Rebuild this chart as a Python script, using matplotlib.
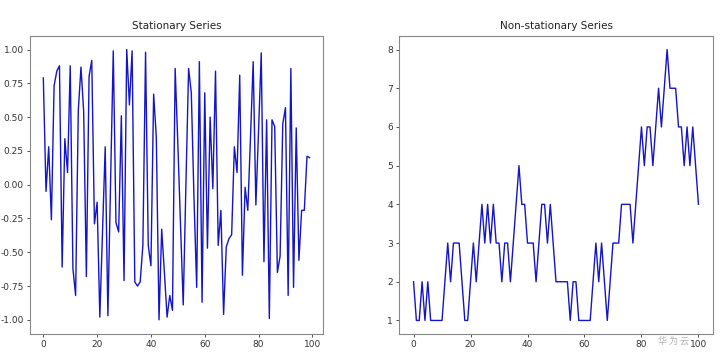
import matplotlib
matplotlib.use("Agg")
import matplotlib.pyplot as plt
import numpy as np

plt.rcParams["axes.unicode_minus"] = False

# Data
stationary = [0.79, -0.05, 0.28, -0.26, 0.73, 0.84, 0.88, -0.61, 0.34, 0.09,
              0.88, -0.62, -0.82, 0.55, 0.87, 0.54, -0.68, 0.80, 0.92, -0.29,
              -0.13, -0.98, -0.35, 0.28, -0.97, 0.02, 0.99, -0.28, -0.35, 0.51,
              -0.71, 1.00, 0.59, 0.99, -0.72, -0.75, -0.72, -0.45, 0.98, -0.45,
              -0.60, 0.67, 0.35, -1.00, -0.33, -0.65, -0.98, -0.82, -0.93, 0.86,
              0.30, -0.30, -0.89, 0.00, 0.86, 0.68, -0.10, -0.76, 0.91, -0.87,
              0.68, -0.47, 0.50, -0.03, 0.84, -0.45, -0.19, -0.96, -0.46, -0.40,
              -0.37, 0.28, 0.09, 0.81, -0.67, -0.02, -0.19, 0.35, 0.91, -0.15,
              0.40, 0.975, -0.57, 0.48, -0.99, 0.48, 0.43, -0.65, -0.53, 0.45,
              0.57, -0.82, 0.86, -0.76, 0.42, -0.56, -0.19, -0.19, 0.21, 0.20]

non_stationary = [2, 1, 1, 2, 1, 2, 1, 1, 1, 1,
                  1, 2, 3, 2, 3, 3, 3, 2, 1, 1,
                  2, 3, 2, 3, 4, 3, 4, 3, 4, 3,
                  3, 2, 3, 3, 2, 3, 4, 5, 4, 4,
                  3, 3, 3, 2, 3, 4, 4, 3, 4, 3,
                  2, 2, 2, 2, 2, 1, 2, 2, 1, 1,
                  1, 1, 1, 2, 3, 2, 3, 2, 1, 2,
                  3, 3, 3, 4, 4, 4, 4, 3, 4, 5,
                  6, 5, 6, 6, 5, 6, 7, 6, 7, 8,
                  7, 7, 7, 6, 6, 5, 6, 5, 6, 5, 4]

titles = ["Stationary Series", "Non-stationary Series"]

fig = plt.figure(figsize=(7.2, 3.57), dpi=100)
ax1 = fig.add_axes([30/720, 1-334/357, (323-30)/720, (334-36)/357])
ax2 = fig.add_axes([399.3/720, 1-334/357, (712.7-399.3)/720, (334-36)/357])

line_color = "#1414c8"
ax1.plot(np.arange(len(stationary)), stationary, color=line_color, lw=1.0)
ax2.plot(np.arange(len(non_stationary)), non_stationary, color=line_color, lw=1.0)

ax1.set_ylim(-1.105, 1.1)
ax1.set_yticks([-1.0, -0.75, -0.5, -0.25, 0.0, 0.25, 0.5, 0.75, 1.0])

for ax, t in zip([ax1, ax2], titles):
    ax.set_title(t, fontsize=7.5, pad=5, color="#222222")
    ax.tick_params(labelsize=6.5, length=2.5, width=0.6, colors="#333333", pad=2)
    ax.set_xticks([0, 20, 40, 60, 80, 100])
    for s in ax.spines.values():
        s.set_color("#888888")
        s.set_linewidth(0.8)

fig.text(673/720, 1-341/357, "华 为 云", fontsize=6.5, color="#b0b0b0",
         family=["Noto Sans CJK SC", "DejaVu Sans"], ha="center", va="center")

fig.savefig("out.png", dpi=100)
